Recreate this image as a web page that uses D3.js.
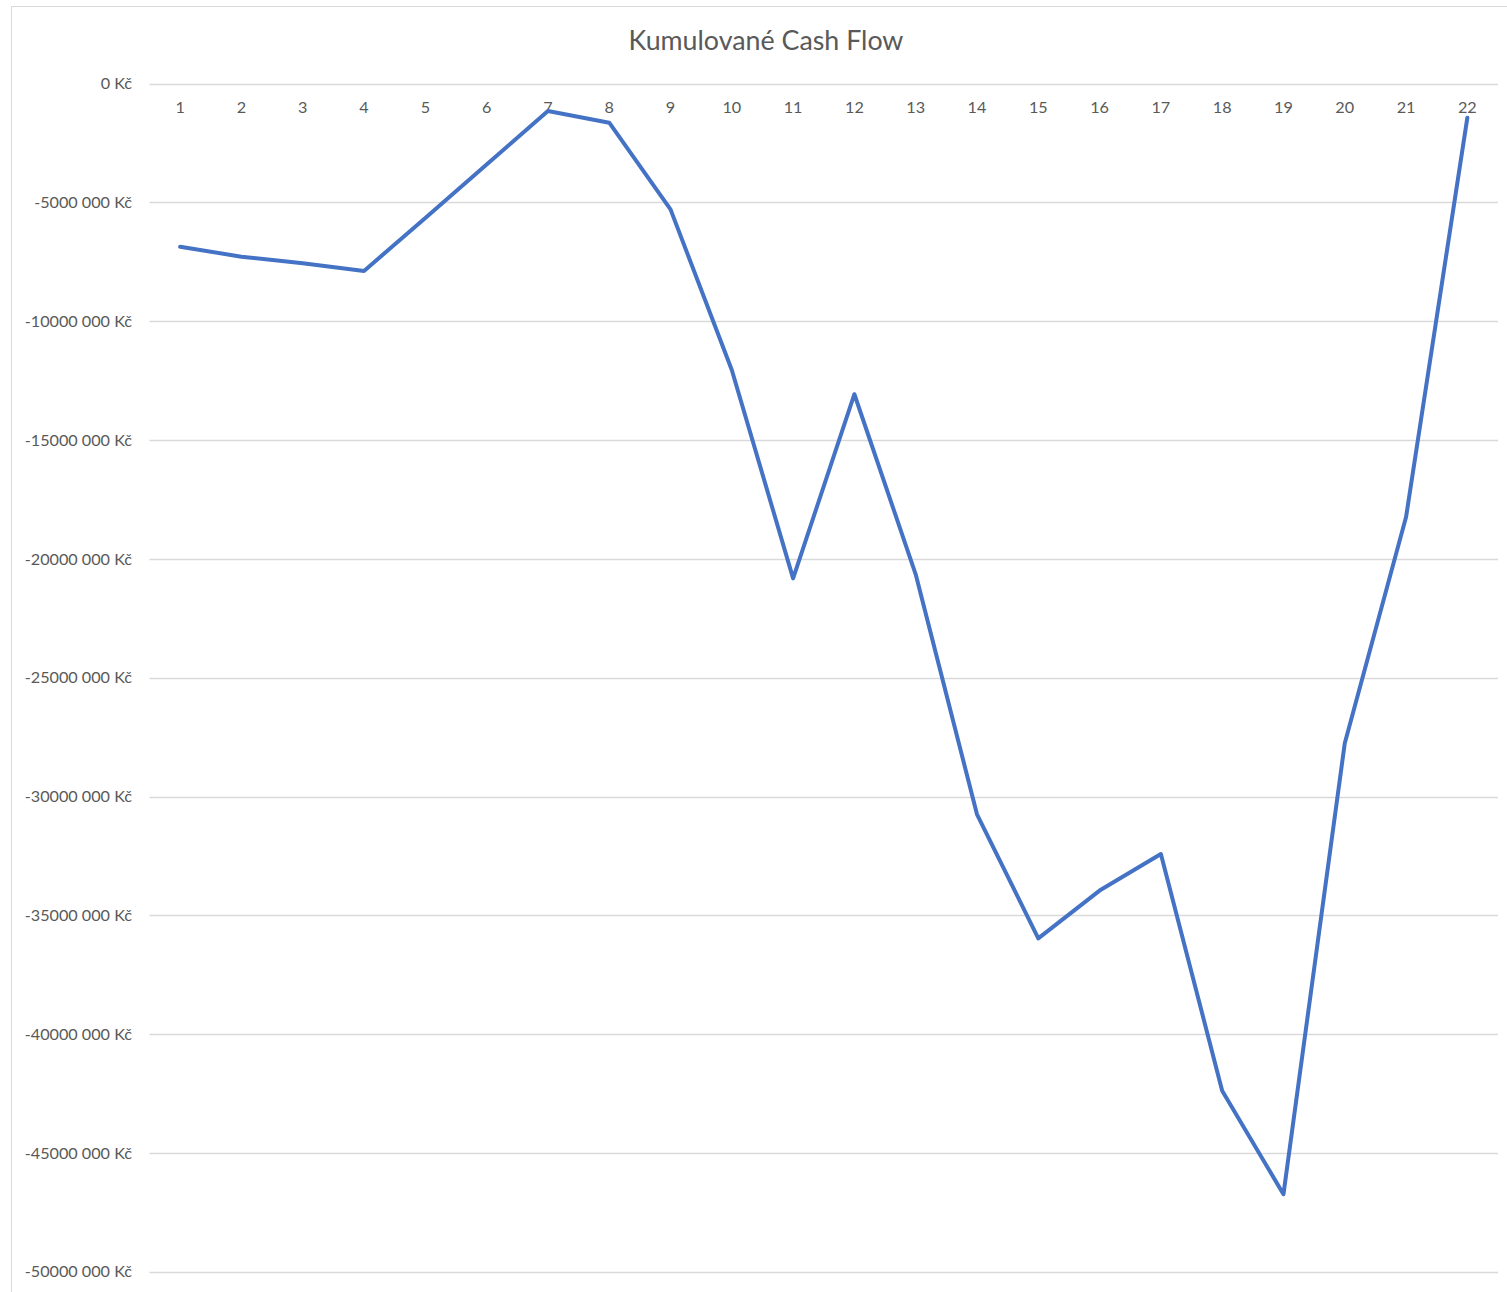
<!DOCTYPE html>
<html>
<head>
<meta charset="utf-8">
<script src="https://cdn.jsdelivr.net/npm/d3@7"></script>
<style>
  html, body { margin: 0; padding: 0; background: #fff; }
  svg { display: block; }
</style>
</head>
<body>
<svg id="chart" width="1507" height="1292"></svg>
<script>
const chartTitle = "Kumulované Cash Flow";
const categories = ["1","2","3","4","5","6","7","8","9","10","11","12","13","14","15","16","17","18","19","20","21","22"];
const cashFlow = [-6860000, -7280000, -7560000, -7880000, -5650000, -3400000, -1150000, -1640000, -5290000, -12050000, -20820000, -13070000, -20650000, -30750000, -35970000, -33960000, -32420000, -42380000, -46740000, -27760000, -18240000, -1430000];
const yTicks = [0, -5000000, -10000000, -15000000, -20000000, -25000000, -30000000, -35000000, -40000000, -45000000, -50000000];

const svg = d3.select("#chart");
const font = "Lato, 'Open Sans', sans-serif";
const textColor = "#595959";

// chart border
svg.append("rect")
  .attr("x", 11.5).attr("y", 6.5)
  .attr("width", 1530).attr("height", 1330)
  .attr("fill", "none").attr("stroke", "#d9d9d9").attr("stroke-width", 1);

const plot = { left: 149.5, right: 1498, top: 83.7, bottom: 1271.7 };

const x = d3.scaleBand().domain(categories).range([plot.left, plot.right]).padding(0);
const y = d3.scaleLinear().domain([-50000000, 0]).range([plot.bottom, plot.top]);

function fmt(v) {
  if (v === 0) return "0 Kč";
  const a = Math.abs(v);
  const hi = Math.floor(a / 1000);
  const lo = String(a % 1000).padStart(3, "0");
  return (v < 0 ? "-" : "") + hi + " " + lo + " Kč";
}

// gridlines
svg.append("g")
  .selectAll("line").data(yTicks).join("line")
  .attr("x1", plot.left).attr("x2", plot.right)
  .attr("y1", d => Math.round(y(d)) + 0.5).attr("y2", d => Math.round(y(d)) + 0.5)
  .attr("stroke", "#d9d9d9").attr("stroke-width", 1.3);

// y axis labels
const yAxis = d3.axisLeft(y).tickValues(yTicks).tickFormat(fmt).tickSize(0).tickPadding(0);
const yg = svg.append("g").attr("transform", `translate(132,0)`).call(yAxis);
yg.select(".domain").remove();
yg.selectAll("text").attr("font-family", font).attr("font-size", 16.2).attr("fill", textColor);

// x axis labels (axis crosses at 0 at top)
const xAxis = d3.axisBottom(x).tickSize(0).tickPadding(0);
const xg = svg.append("g").attr("transform", `translate(0,${y(0) + 18})`).call(xAxis);
xg.select(".domain").remove();
xg.selectAll("text").attr("font-family", font).attr("font-size", 16.2).attr("fill", textColor);

// line
const line = d3.line()
  .x((d, i) => x(categories[i]) + x.bandwidth() / 2)
  .y(d => y(d));
svg.append("path")
  .datum(cashFlow)
  .attr("d", line)
  .attr("fill", "none")
  .attr("stroke", "#4472C4")
  .attr("stroke-width", 4)
  .attr("stroke-linejoin", "round")
  .attr("stroke-linecap", "round");

// title
svg.append("text")
  .attr("x", 766).attr("y", 50)
  .attr("text-anchor", "middle")
  .attr("font-family", font).attr("font-size", 26.8)
  .attr("fill", textColor)
  .text(chartTitle);
</script>
</body>
</html>
